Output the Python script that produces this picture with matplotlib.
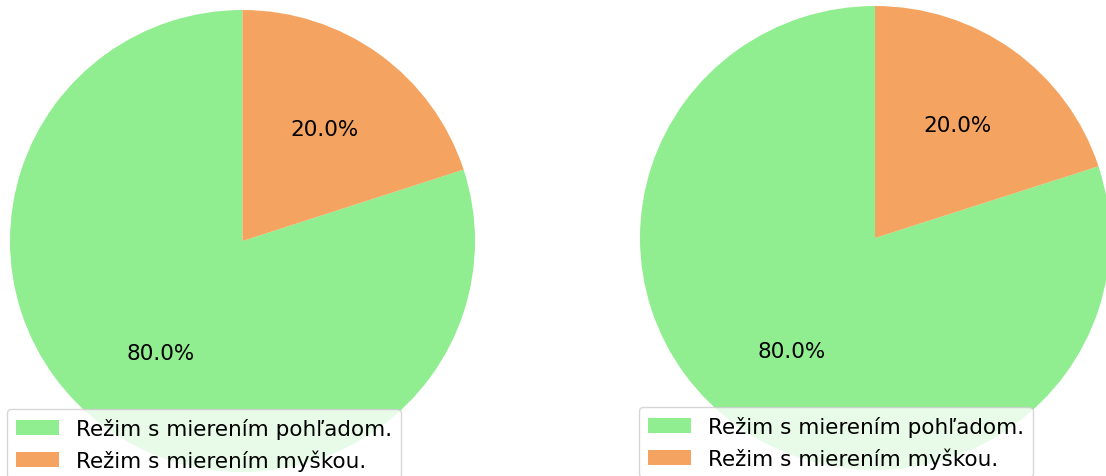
import matplotlib.pyplot as plt

labels = ["Režim s mierením pohľadom.", "Režim s mierením myškou."]
left_values = [80, 20]
right_values = [80, 20]
colors = ["lightgreen", "sandybrown"]

W, H = 1106, 477
fig = plt.figure(figsize=(W / 100, H / 100), dpi=100)


def px_axes(x0, y0, x1, y1):
    # pixel box (from top-left) -> figure fraction
    return fig.add_axes([x0 / W, (H - y1) / H, (x1 - x0) / W, (y1 - y0) / H])


def draw(ax, values, leg_x, leg_y):
    ax.pie(values, colors=colors, autopct="%1.1f%%", startangle=90,
           textprops={"fontsize": 15.5})
    ax.set_xlim(-1, 1)
    ax.set_ylim(-1, 1)
    ax.set_aspect("auto")
    ax.legend(labels, loc="upper left", fontsize=15.5, borderaxespad=0,
              bbox_to_anchor=(leg_x / W, (H - leg_y) / H),
              bbox_transform=fig.transFigure)


ax1 = px_axes(10, 11, 475, 473)
draw(ax1, left_values, 7, 410)
ax2 = px_axes(640, 7, 1110, 471)
draw(ax2, right_values, 639, 408)

fig.savefig("out.png", dpi=100)
